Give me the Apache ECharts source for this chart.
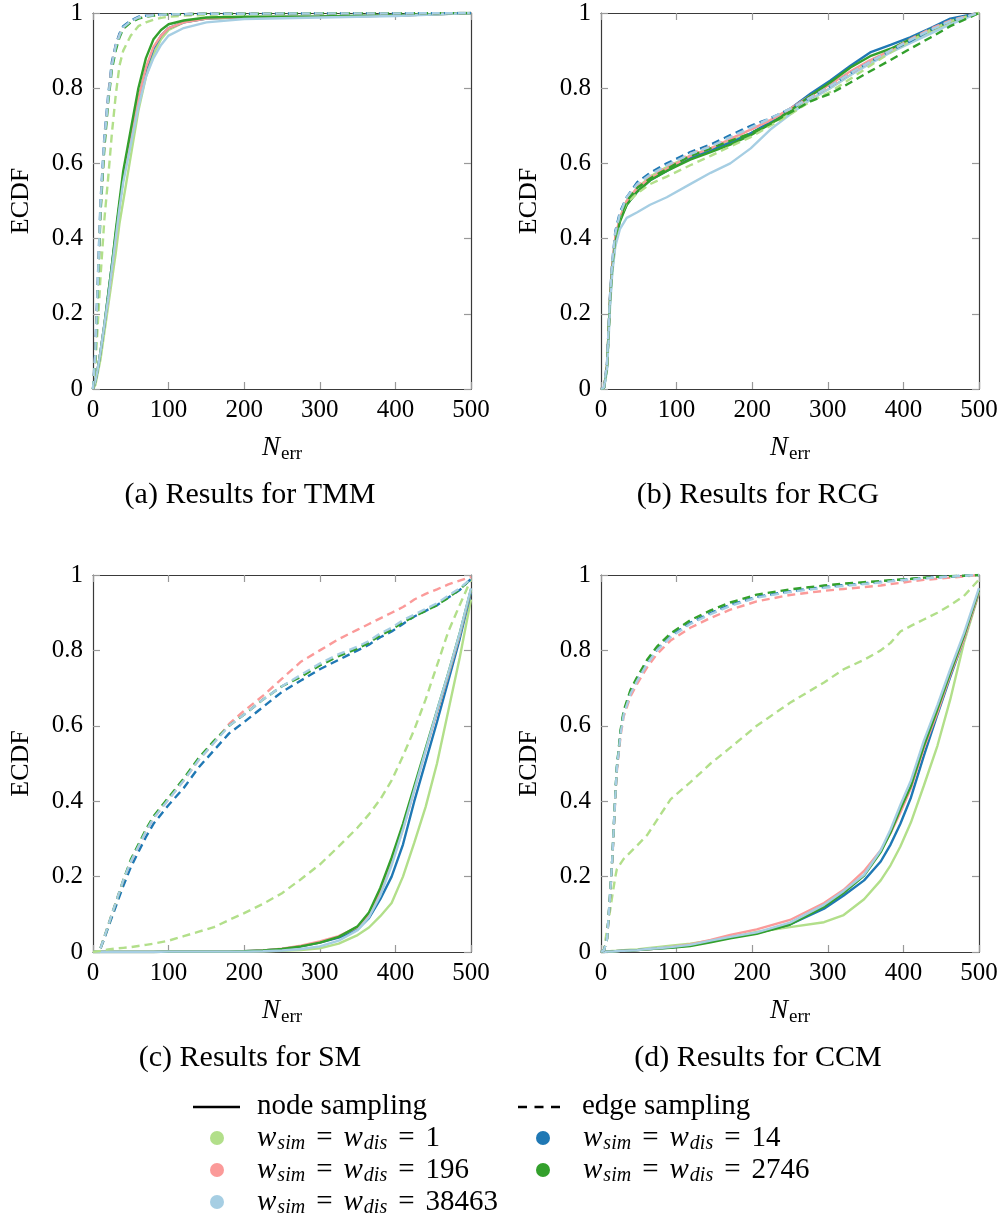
<!DOCTYPE html>
<html><head><meta charset="utf-8">
<script src="https://cdn.jsdelivr.net/npm/echarts@6/dist/echarts.min.js"></script>
<style>html,body{margin:0;padding:0;background:#fff}#c{width:1002px;height:1218px}</style>
</head><body><div id="c"></div>
<script>
// ---------- DATA ----------
const xTicks = [0,100,200,300,400,500];
const yTicks = [0,0.2,0.4,0.6,0.8,1];
const captions = ['(a) Results for TMM','(b) Results for RCG','(c) Results for SM','(d) Results for CCM'];
const weightLabels = ['1','14','196','2746','38463'];
const colors = ['#b2df8a','#1f78b4','#fb9a99','#33a02c','#a6cee3'];

// (a) TMM
const xsA = [0,3,6,10,15,20,25,30,35,40,50,60,70,80,90,100,120,150,200,300,400,500];
const tmmNode1     = [0,0.01,0.04,0.08,0.15,0.22,0.29,0.36,0.44,0.5,0.62,0.74,0.83,0.89,0.93,0.955,0.975,0.985,0.988,0.99,0.993,1];
const tmmNode14    = [0,0.02,0.05,0.1,0.17,0.25,0.33,0.41,0.49,0.56,0.66,0.77,0.85,0.905,0.94,0.96,0.975,0.985,0.989,0.99,0.993,1];
const tmmNode196   = [0,0.02,0.05,0.1,0.17,0.24,0.32,0.4,0.49,0.56,0.66,0.77,0.855,0.91,0.94,0.96,0.975,0.985,0.989,0.99,0.993,1];
const tmmNode2746  = [0,0.02,0.05,0.1,0.17,0.25,0.33,0.42,0.5,0.58,0.69,0.8,0.88,0.93,0.955,0.97,0.98,0.988,0.99,0.991,0.994,1];
const tmmNode38463 = [0,0.02,0.05,0.1,0.17,0.24,0.32,0.4,0.48,0.55,0.65,0.75,0.83,0.88,0.915,0.94,0.96,0.975,0.984,0.988,0.992,1];
const tmmEdge1     = [0,0.06,0.16,0.3,0.45,0.56,0.68,0.78,0.86,0.9,0.94,0.965,0.975,0.982,0.987,0.99,0.993,0.995,0.997,0.998,0.999,1];
const tmmEdge14    = [0,0.1,0.27,0.5,0.67,0.78,0.87,0.915,0.945,0.965,0.98,0.99,0.993,0.995,0.996,0.997,0.997,0.998,0.998,0.999,0.999,1];
const tmmEdge196   = [0,0.09,0.25,0.48,0.65,0.77,0.86,0.91,0.94,0.96,0.977,0.987,0.992,0.994,0.995,0.996,0.997,0.998,0.998,0.999,0.999,1];
const tmmEdge2746  = [0,0.08,0.24,0.47,0.64,0.76,0.85,0.9,0.935,0.958,0.975,0.985,0.99,0.993,0.995,0.996,0.997,0.998,0.998,0.999,0.999,1];
const tmmEdge38463 = [0,0.09,0.26,0.49,0.66,0.77,0.86,0.91,0.94,0.962,0.978,0.988,0.992,0.994,0.995,0.996,0.997,0.998,0.998,0.999,0.999,1];

// (b) RCG
const xsB = [0,4,8,10,12,15,19,25,34,48,65,87,118,145,171,198,224,250,277,303,330,356,383,409,436,462,500];
const rcgNode1     = [0,0.003,0.06,0.15,0.24,0.33,0.40,0.455,0.5,0.535,0.565,0.59,0.62,0.64,0.66,0.68,0.705,0.735,0.77,0.8,0.835,0.87,0.9,0.925,0.95,0.975,1];
const rcgNode14    = [0,0.003,0.06,0.15,0.24,0.33,0.40,0.45,0.49,0.525,0.555,0.58,0.615,0.635,0.655,0.68,0.71,0.745,0.785,0.82,0.86,0.895,0.915,0.935,0.96,0.985,1];
const rcgNode196   = [0,0.003,0.065,0.155,0.245,0.335,0.405,0.455,0.5,0.535,0.56,0.585,0.62,0.64,0.665,0.69,0.715,0.745,0.78,0.81,0.845,0.875,0.9,0.93,0.955,0.978,1];
const rcgNode2746  = [0,0.003,0.06,0.15,0.235,0.32,0.39,0.445,0.49,0.525,0.555,0.58,0.61,0.63,0.65,0.675,0.705,0.74,0.78,0.815,0.855,0.885,0.905,0.93,0.955,0.978,1];
const rcgNode38463 = [0,0.002,0.05,0.13,0.22,0.31,0.38,0.425,0.455,0.47,0.49,0.51,0.545,0.575,0.6,0.64,0.69,0.73,0.77,0.8,0.835,0.865,0.895,0.92,0.945,0.97,1];
const rcgEdge1     = [0,0.003,0.06,0.15,0.24,0.33,0.40,0.455,0.495,0.52,0.545,0.565,0.595,0.62,0.645,0.67,0.7,0.73,0.765,0.79,0.825,0.86,0.895,0.925,0.955,0.978,1];
const rcgEdge14    = [0,0.004,0.07,0.16,0.25,0.34,0.42,0.47,0.51,0.55,0.575,0.6,0.63,0.65,0.675,0.7,0.72,0.745,0.775,0.805,0.84,0.87,0.9,0.925,0.955,0.98,1];
const rcgEdge196   = [0,0.004,0.065,0.155,0.245,0.335,0.41,0.46,0.505,0.54,0.565,0.59,0.625,0.645,0.665,0.69,0.715,0.745,0.775,0.805,0.84,0.87,0.9,0.93,0.958,0.98,1];
const rcgEdge2746  = [0,0.003,0.06,0.15,0.24,0.33,0.405,0.455,0.5,0.535,0.56,0.585,0.62,0.64,0.66,0.68,0.705,0.735,0.765,0.785,0.815,0.845,0.875,0.905,0.935,0.965,1];
const rcgEdge38463 = [0,0.004,0.07,0.16,0.25,0.34,0.415,0.465,0.51,0.545,0.57,0.595,0.625,0.645,0.67,0.695,0.72,0.745,0.775,0.805,0.84,0.87,0.9,0.928,0.955,0.978,1];

// (c) SM
const xsC = [0,10,15,20,30,40,50,60,70,80,100,120,140,160,180,200,225,250,275,300,325,350,365,380,395,410,425,440,455,470,485,500];
const smNode1     = [0,0,0,0,0,0,0,0,0,0,0.001,0.001,0.001,0.001,0.001,0.001,0.002,0.003,0.005,0.01,0.022,0.045,0.065,0.095,0.13,0.2,0.29,0.385,0.5,0.64,0.78,0.935];
const smNode14    = [0,0,0,0,0,0,0,0,0,0,0.001,0.001,0.001,0.001,0.001,0.002,0.004,0.008,0.015,0.025,0.038,0.06,0.09,0.14,0.2,0.285,0.4,0.505,0.61,0.72,0.83,0.955];
const smNode196   = [0,0,0,0,0,0,0,0,0,0,0.001,0.001,0.001,0.001,0.001,0.002,0.004,0.009,0.017,0.028,0.042,0.066,0.1,0.16,0.235,0.325,0.43,0.535,0.635,0.735,0.84,0.96];
const smNode2746  = [0,0,0,0,0,0,0,0,0,0,0.001,0.001,0.001,0.001,0.001,0.002,0.004,0.008,0.015,0.025,0.04,0.068,0.105,0.17,0.25,0.34,0.44,0.54,0.64,0.74,0.845,0.962];
const smNode38463 = [0,0,0,0,0,0,0,0,0,0,0.001,0.001,0.001,0.001,0.001,0.001,0.002,0.004,0.008,0.015,0.03,0.058,0.092,0.15,0.23,0.325,0.43,0.535,0.64,0.74,0.845,0.965];
const smEdge1     = [0,0.003,0.005,0.007,0.009,0.011,0.013,0.016,0.019,0.022,0.03,0.042,0.054,0.066,0.085,0.103,0.128,0.156,0.193,0.232,0.28,0.33,0.365,0.405,0.455,0.52,0.59,0.67,0.76,0.85,0.92,0.988];
const smEdge14    = [null,0.01,0.035,0.065,0.12,0.175,0.225,0.265,0.305,0.34,0.39,0.435,0.49,0.535,0.58,0.61,0.65,0.69,0.72,0.75,0.775,0.8,0.815,0.835,0.85,0.87,0.89,0.905,0.92,0.94,0.96,0.99];
const smEdge196   = [null,0.01,0.04,0.07,0.13,0.19,0.24,0.28,0.32,0.355,0.405,0.455,0.51,0.555,0.605,0.64,0.68,0.725,0.77,0.8,0.83,0.855,0.87,0.885,0.9,0.915,0.935,0.95,0.962,0.975,0.985,0.995];
const smEdge2746  = [null,0.01,0.04,0.07,0.13,0.19,0.245,0.285,0.325,0.36,0.41,0.46,0.515,0.56,0.6,0.63,0.67,0.705,0.73,0.76,0.785,0.805,0.82,0.84,0.855,0.875,0.89,0.905,0.92,0.94,0.962,0.99];
const smEdge38463 = [null,0.01,0.04,0.07,0.13,0.19,0.24,0.28,0.32,0.355,0.405,0.455,0.51,0.555,0.6,0.63,0.67,0.705,0.735,0.765,0.79,0.81,0.825,0.845,0.86,0.88,0.895,0.91,0.925,0.945,0.965,0.99];

// (d) CCM
const xsD = [0,4,8,12,15,17,19,21,26,30,39,48,61,74,92,118,145,171,206,250,295,321,348,370,383,396,410,427,445,462,480,500];
const ccmNode1     = [0,0.001,0.002,0.002,0.003,0.003,0.003,0.004,0.004,0.005,0.006,0.007,0.01,0.013,0.017,0.022,0.03,0.038,0.053,0.066,0.079,0.098,0.14,0.19,0.23,0.28,0.344,0.441,0.547,0.67,0.82,0.952];
const ccmNode14    = [0,0,0.001,0.001,0.001,0.002,0.002,0.002,0.003,0.003,0.004,0.005,0.007,0.009,0.012,0.018,0.028,0.038,0.05,0.073,0.115,0.15,0.19,0.24,0.285,0.34,0.41,0.52,0.63,0.73,0.83,0.955];
const ccmNode196   = [0,0,0.001,0.001,0.001,0.002,0.002,0.002,0.003,0.003,0.004,0.005,0.007,0.009,0.013,0.02,0.032,0.045,0.06,0.085,0.13,0.165,0.215,0.27,0.315,0.37,0.435,0.54,0.635,0.735,0.83,0.955];
const ccmNode2746  = [0,0,0.001,0.001,0.001,0.002,0.002,0.002,0.003,0.003,0.004,0.005,0.007,0.009,0.011,0.016,0.026,0.036,0.048,0.073,0.12,0.157,0.203,0.265,0.317,0.379,0.441,0.547,0.644,0.741,0.838,0.96];
const ccmNode38463 = [0,0,0.001,0.001,0.001,0.002,0.002,0.002,0.003,0.003,0.004,0.005,0.008,0.01,0.013,0.019,0.03,0.04,0.052,0.078,0.125,0.162,0.205,0.27,0.325,0.39,0.455,0.56,0.655,0.75,0.845,0.965];
const ccmEdge1     = [0,0.005,0.06,0.11,0.15,0.175,0.2,0.22,0.235,0.247,0.265,0.283,0.31,0.35,0.405,0.45,0.5,0.542,0.6,0.661,0.715,0.75,0.775,0.8,0.82,0.85,0.865,0.882,0.9,0.92,0.944,0.988];
const ccmEdge14    = [0,0.005,0.035,0.15,0.25,0.335,0.42,0.49,0.585,0.635,0.688,0.723,0.767,0.802,0.838,0.873,0.899,0.921,0.942,0.957,0.968,0.973,0.978,0.982,0.985,0.987,0.989,0.992,0.994,0.996,0.998,1];
const ccmEdge196   = [0,0.005,0.035,0.145,0.245,0.33,0.41,0.48,0.575,0.625,0.678,0.712,0.755,0.79,0.826,0.86,0.886,0.908,0.93,0.947,0.958,0.963,0.968,0.972,0.976,0.979,0.983,0.987,0.99,0.993,0.996,1];
const ccmEdge2746  = [0,0.005,0.035,0.15,0.25,0.335,0.42,0.49,0.59,0.64,0.695,0.73,0.775,0.81,0.845,0.88,0.906,0.927,0.948,0.962,0.972,0.977,0.981,0.984,0.986,0.988,0.99,0.993,0.995,0.997,0.998,1];
const ccmEdge38463 = [0,0.005,0.035,0.15,0.25,0.335,0.415,0.485,0.58,0.63,0.685,0.72,0.764,0.8,0.835,0.87,0.896,0.918,0.94,0.955,0.966,0.971,0.976,0.98,0.983,0.986,0.988,0.991,0.994,0.996,0.998,1];

// ---------- CHART ----------
const FONT = "'Liberation Serif', 'DejaVu Serif', serif";
const grids = [
  {left:93, top:13, width:378, height:376},
  {left:601, top:13, width:378, height:376},
  {left:93, top:575, width:378, height:377},
  {left:601, top:575, width:378, height:377}
];
const panels = [
  {xs:xsA, node:[tmmNode1,tmmNode14,tmmNode196,tmmNode2746,tmmNode38463], edge:[tmmEdge1,tmmEdge14,tmmEdge196,tmmEdge2746,tmmEdge38463]},
  {xs:xsB, node:[rcgNode1,rcgNode14,rcgNode196,rcgNode2746,rcgNode38463], edge:[rcgEdge1,rcgEdge14,rcgEdge196,rcgEdge2746,rcgEdge38463]},
  {xs:xsC, node:[smNode1,smNode14,smNode196,smNode2746,smNode38463], edge:[smEdge1,smEdge14,smEdge196,smEdge2746,smEdge38463]},
  {xs:xsD, node:[ccmNode1,ccmNode14,ccmNode196,ccmNode2746,ccmNode38463], edge:[ccmEdge1,ccmEdge14,ccmEdge196,ccmEdge2746,ccmEdge38463]}
];
const axisLine = {show:true, onZero:false, lineStyle:{color:'#3a3a3a', width:1.2}};
const tick = {show:true, inside:true, length:7, lineStyle:{color:'#999', width:1.2}};
const xAxes = [], yAxes = [];
grids.forEach((g,i)=>{
  xAxes.push({gridIndex:i, type:'value', min:xTicks[0], max:xTicks[xTicks.length-1], interval:100, position:'bottom',
    axisLine, axisTick:tick, splitLine:{show:false},
    axisLabel:{fontFamily:FONT, fontSize:25, color:'#000', margin:9},
    name:'{n|N}{s|err}', nameLocation:'middle', nameGap:42,
    nameTextStyle:{rich:{n:{fontFamily:FONT, fontStyle:'italic', fontSize:27, color:'#000'}, s:{fontFamily:FONT, fontSize:19, color:'#000', padding:[14,0,0,1]}}}});
  xAxes.push({gridIndex:i, type:'value', min:0, max:500, interval:100, position:'top',
    axisLine, axisTick:tick, axisLabel:{show:false}, splitLine:{show:false}});
  yAxes.push({gridIndex:i, type:'value', min:yTicks[0], max:yTicks[yTicks.length-1], interval:0.2, position:'left',
    axisLine, axisTick:tick, splitLine:{show:false},
    axisLabel:{fontFamily:FONT, fontSize:25, color:'#000', margin:10, formatter:v=>(v===0?'0':v===1?'1':v.toFixed(1))},
    name:'ECDF', nameLocation:'middle', nameGap:59, nameRotate:90,
    nameTextStyle:{fontFamily:FONT, fontSize:26, color:'#000'}});
  yAxes.push({gridIndex:i, type:'value', min:0, max:1, interval:0.2, position:'right',
    axisLine, axisTick:tick, axisLabel:{show:false}, splitLine:{show:false}});
});
const series = [];
panels.forEach((p,gi)=>{
  [['node','solid'],['edge',[8,5]]].forEach(([key,type])=>{
    p[key].forEach((ys,k)=>{
      series.push({type:'line', xAxisIndex:gi*2, yAxisIndex:gi*2, showSymbol:false, symbol:'none', silent:true,
        data:p.xs.map((x,j)=>[x, ys[j]]), connectNulls:false,
        lineStyle:{color:colors[k], width:2.4, type:type}, z:2});
    });
  });
});
const graphic = [];
const capPos = [[250,495],[758,495],[250,1058],[758,1058]];
captions.forEach((c,i)=>graphic.push({type:'text', x:capPos[i][0], y:capPos[i][1],
  style:{text:c, font:'30px '+FONT, fill:'#000', align:'center', verticalAlign:'middle'}}));
// legend
graphic.push({type:'line', shape:{x1:193,y1:1107,x2:240,y2:1107}, style:{stroke:'#000', lineWidth:2.4}});
graphic.push({type:'text', x:257, y:1106, style:{text:'node sampling', font:'29px '+FONT, fill:'#000', verticalAlign:'middle'}});
graphic.push({type:'line', shape:{x1:518,y1:1107,x2:560,y2:1107}, style:{stroke:'#000', lineWidth:2.4, lineDash:[9,7.5]}});
graphic.push({type:'text', x:582, y:1106, style:{text:'edge sampling', font:'29px '+FONT, fill:'#000', verticalAlign:'middle'}});
const legRich = {w:{fontFamily:FONT, fontStyle:'italic', fontSize:29, fill:'#000'},
  s:{fontFamily:FONT, fontStyle:'italic', fontSize:20, fill:'#000', padding:[12,0,0,1]},
  t:{fontFamily:FONT, fontSize:29, fill:'#000', padding:[0,11,0,11]},
  v:{fontFamily:FONT, fontSize:29, fill:'#000'}};
const legPos = [[217,1138],[543,1138],[217,1170],[543,1170],[217,1202]];
weightLabels.forEach((w,k)=>{
  const [cx,cy] = legPos[k];
  graphic.push({type:'circle', shape:{cx, cy, r:7}, style:{fill:colors[k]}});
  graphic.push({type:'text', x:cx+40, y:cy, style:{text:'{w|w}{s|sim}{t|=}{w|w}{s|dis}{t|=}{v|'+w+'}', rich:legRich, verticalAlign:'middle'}});
});
const chart = echarts.init(document.getElementById('c'), null, {renderer:'canvas'});
chart.setOption({animation:false, backgroundColor:'#fff', grid:grids, xAxis:xAxes, yAxis:yAxes, series, graphic});
</script></body></html>
